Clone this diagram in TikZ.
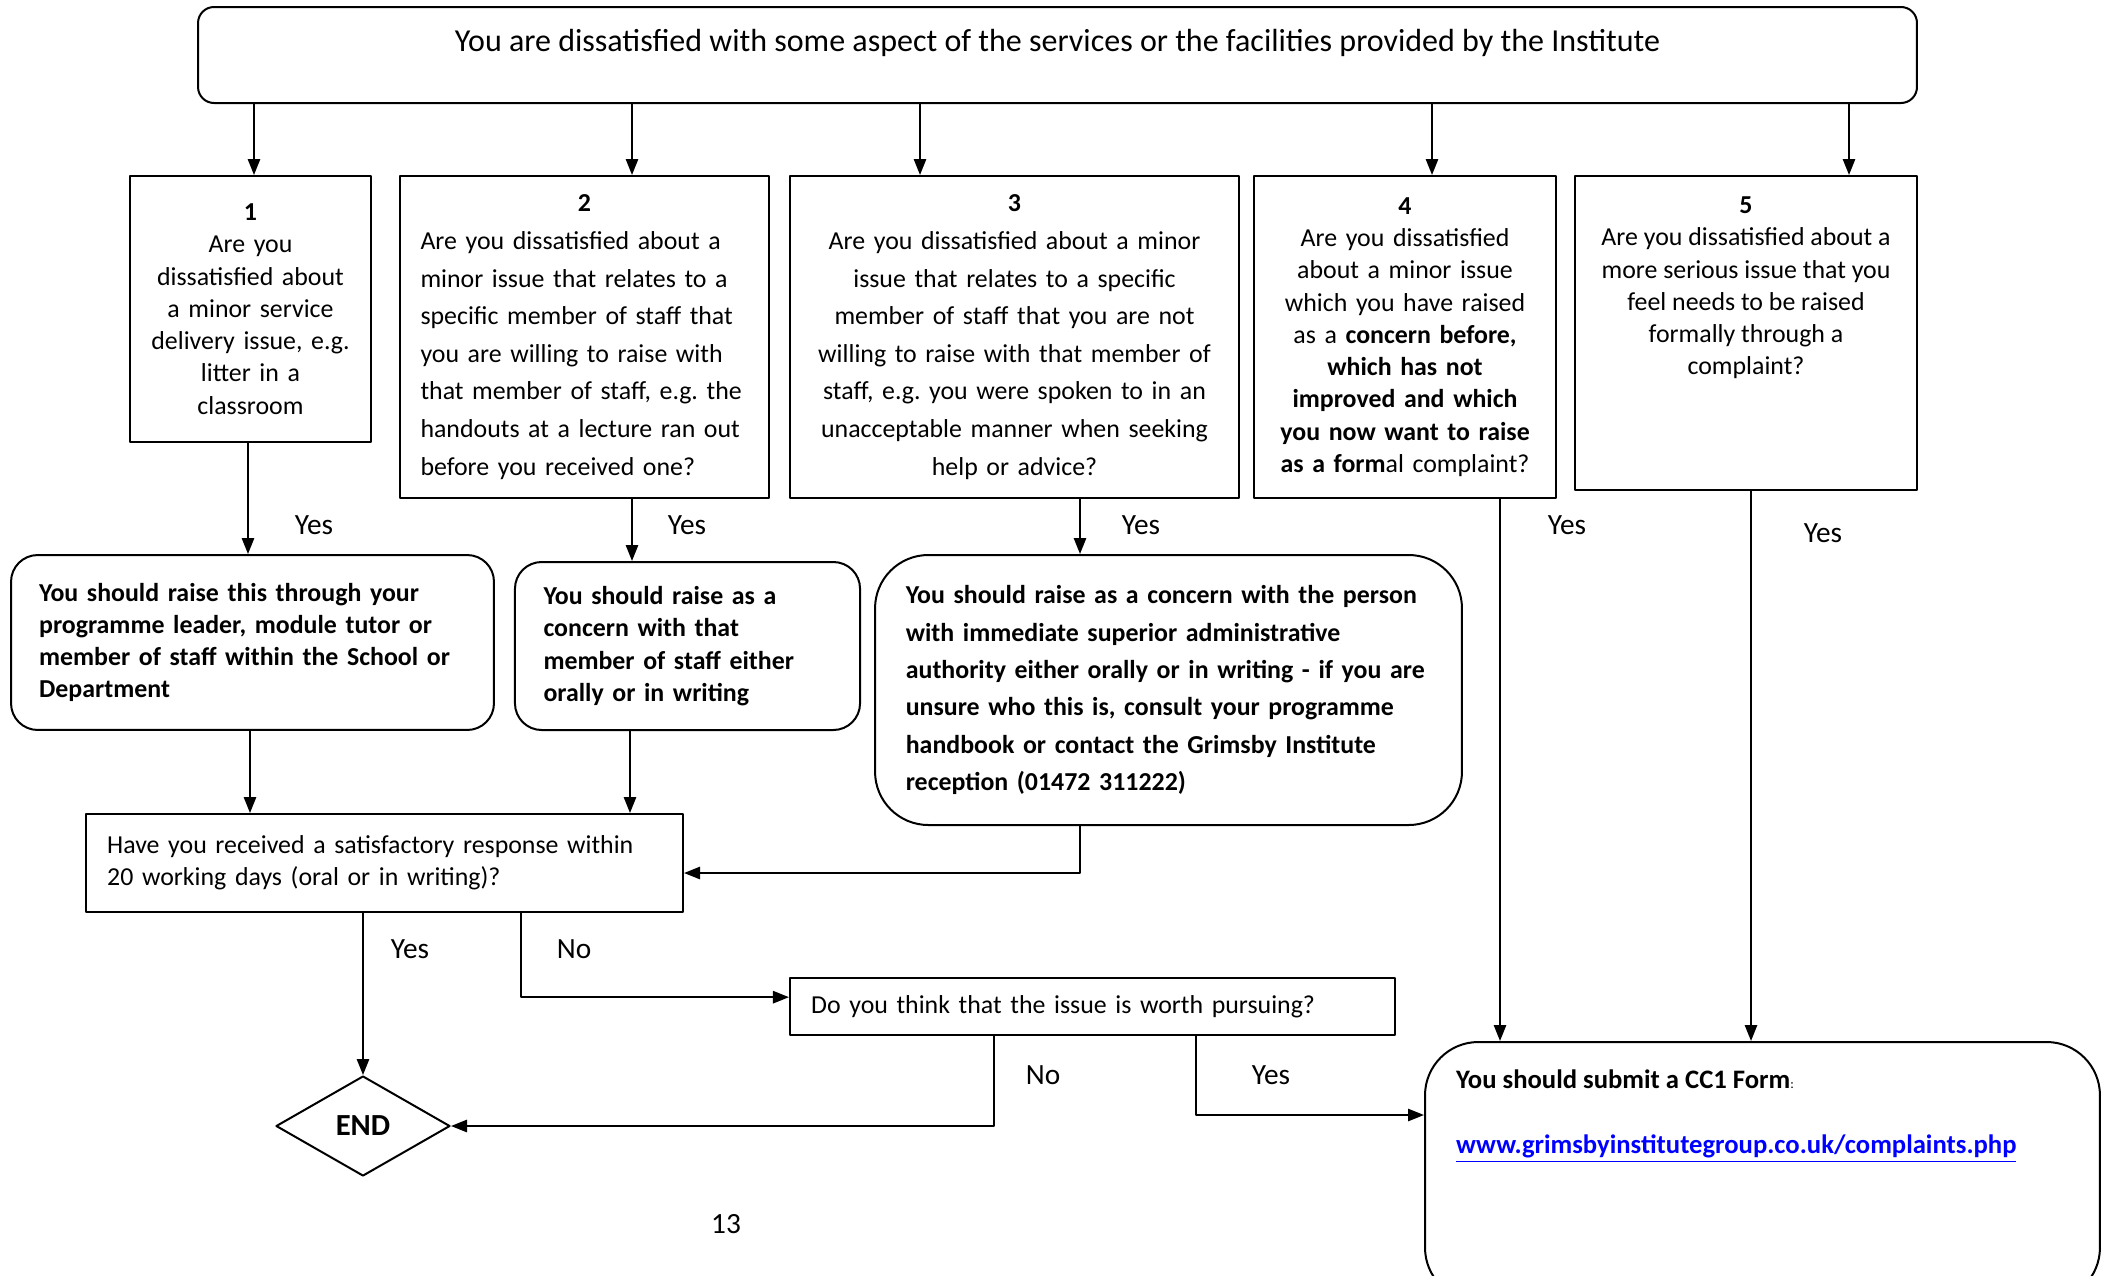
\documentclass[tikz,border=0pt]{standalone}
\usepackage{fontspec}
\setmainfont{Carlito}
\usetikzlibrary{shapes.geometric,arrows.meta}
\definecolor{urlblue}{RGB}{0,0,255}
\hyphenpenalty=10000
\frenchspacing
\begin{document}
\begin{tikzpicture}[x=0.375pt, y=-0.375pt, line width=0.75pt, line join=round, >={Triangle[length=6pt,width=4.6pt]},
	font=\fontsize{9.7}{12.1}\selectfont,
	qbox/.style={draw, inner sep=0pt},
	rbox/.style={draw, rounded corners=10pt, inner sep=0pt, align=left, font=\fontsize{9.7}{12.1}\selectfont\bfseries},
	wide/.style={font=\fontsize{9.7}{14.1}\selectfont},
	lbl/.style={font=\fontsize{11}{13}\selectfont}]
	\useasboundingbox (0,0) rectangle (2107,1275);
	\clip (0,0) rectangle (2107,1275);
	\node[qbox, rounded corners=6pt, minimum width=644.6pt, minimum height=36pt] (top) at (1057.5,55) {};
	\node[font=\fontsize{12}{14}\selectfont] (toptxt) at ([yshift=-13.9pt]top.north) {You are dissatisfied with some aspect of the services or the facilities provided by the Institute};
	\node[qbox, minimum width=90.4pt, minimum height=99.75pt, text width=87pt, align=center] (q1) at (250.5,309) {\textbf{1}\\Are you\\dissatisfied about\\a minor service\\delivery issue, e.g.\\litter in a\\classroom\\[-4pt]};
	\node[qbox, wide, minimum width=138.4pt, minimum height=120.75pt, text width=130pt, align=center] (q2) at (584.5,337) {\textbf{2}\\\parbox[t]{123pt}{\raggedright Are you dissatisfied about a\\minor issue that relates to a\\specific member of staff that\\you are willing to raise with\\that member of staff, e.g. the\\handouts at a lecture ran out\\before you received one?}};
	\node[qbox, wide, minimum width=168.4pt, minimum height=120.75pt, text width=164pt, align=center] (q3) at (1014.5,337) {\textbf{3}\\Are you dissatisfied about a minor\\issue that relates to a specific\\member of staff that you are not\\willing to raise with that member of\\staff, e.g. you were spoken to in an\\unacceptable manner when seeking\\help or advice?};
	\node[qbox, minimum width=113.25pt, minimum height=120.75pt, text width=111pt, align=center] (q4) at (1405,337) {\textbf{4}\\Are you dissatisfied\\about a minor issue\\which you have raised\\as a \textbf{concern before,}\\\textbf{which has not}\\\textbf{improved and which}\\\textbf{you now want to raise}\\\textbf{as a form}al complaint?};
	\node[qbox, minimum width=128.25pt, minimum height=117.75pt] (q5) at (1746,333) {};
	\node[align=center, anchor=north, inner sep=0pt] (q5txt) at ([yshift=-7.8pt]q5.north) {\textbf{5}\\Are you dissatisfied about a\\more serious issue that you\\feel needs to be raised\\formally through a\\complaint?};
	\node[rbox, minimum width=181.1pt, minimum height=65.6pt, text width=160pt] (r1) at (252.5,642.5) {You should raise this through your\\programme leader, module tutor or\\member of staff within the School or\\Department};
	\node[rbox, minimum width=129.4pt, minimum height=63pt, text width=108pt] (r2) at (687.5,646) {You should raise as a\\concern with that\\member of staff either\\orally or in writing};
	\node[rbox, rounded corners=20pt, font=\fontsize{9.7}{14}\selectfont\bfseries, minimum width=220.1pt, minimum height=101.25pt, text width=197pt] (r3) at (1168.5,690) {You should raise as a concern with the person\\with immediate superior administrative\\authority either orally or in writing - if you are\\unsure who this is, consult your programme\\handbook or contact the Grimsby Institute\\reception (01472 311222)};
	\node[qbox, minimum width=223.9pt, minimum height=36.75pt, text width=208pt, align=left] (sat) at (384.5,863) {Have you received a satisfactory response within\\20 working days (oral or in writing)?};
	\node[qbox, minimum width=226.9pt, minimum height=21.4pt, text width=211pt, align=left] (worth) at (1092.5,1006.5) {Do you think that the issue is worth pursuing?};
	\node[draw, diamond, minimum width=65.25pt, minimum height=37.5pt, inner sep=0pt, font=\fontsize{11.5}{13}\selectfont\bfseries] (end) at (363,1126) {END};
	\node[draw, rounded corners=20pt, minimum width=253.1pt, minimum height=97.1pt, anchor=north west] (cc1) at (1424,1041) {};
	\node[anchor=north west, align=left, inner sep=0pt, font=\fontsize{10}{12.2}\selectfont] (cc1txt) at ([xshift=11.7pt, yshift=-10.5pt]cc1.north west) {\textbf{You should submit a CC1 Form}{\fontsize{5}{6}\selectfont:}\\[12pt]\textcolor{urlblue}{\underline{\textbf{www.grimsbyinstitutegroup.co.uk/complaints.php}}}};
	\draw[->] (top.south -| 254,0) -- (q1.north -| 254,0);
	\draw[->] (top.south -| 632,0) -- (q2.north -| 632,0);
	\draw[->] (top.south -| 920,0) -- (q3.north -| 920,0);
	\draw[->] (top.south -| 1432,0) -- (q4.north -| 1432,0);
	\draw[->] (top.south -| 1849,0) -- (q5.north -| 1849,0);
	\draw[->] (q1.south -| 248,0) -- (r1.north -| 248,0);
	\draw[->] (q2.south -| 632,0) -- (r2.north -| 632,0);
	\draw[->] (q3.south -| 1080,0) -- (r3.north -| 1080,0);
	\draw[->] (q4.south -| 1500,0) -- (cc1.north -| 1500,0);
	\draw[->] (q5.south -| 1751,0) -- (cc1.north -| 1751,0);
	\draw[->] (r1.south -| 250,0) -- (sat.north -| 250,0);
	\draw[->] (r2.south -| 630,0) -- (sat.north -| 630,0);
	\draw[->] (r3.south -| 1080,0) |- ([yshift=-3.75pt]sat.east);
	\draw[->] (sat.south -| end.north) -- (end.north);
	\draw[->] (sat.south -| 521,0) |- ([yshift=3.5pt]worth.west);
	\draw[->] (worth.south -| 994,0) |- (end.east);
	\draw[->] (worth.south -| 1196,0) |- ([yshift=-27.75pt]cc1.north west);
	\node[lbl] (yes1) at (314,525) {Yes};
	\node[lbl] (yes2) at (687,525) {Yes};
	\node[lbl] (yes3) at (1141,525) {Yes};
	\node[lbl] (yes4) at (1567,525) {Yes};
	\node[lbl] (yes5) at (1823,533) {Yes};
	\node[lbl] (yessat) at (410,949) {Yes};
	\node[lbl] (nosat) at (574,949) {No};
	\node[lbl] (noworth) at (1043,1075) {No};
	\node[lbl] (yesworth) at (1271,1075) {Yes};
	\node[lbl] (pagenum) at (726,1224) {13};
\end{tikzpicture}
\end{document}
